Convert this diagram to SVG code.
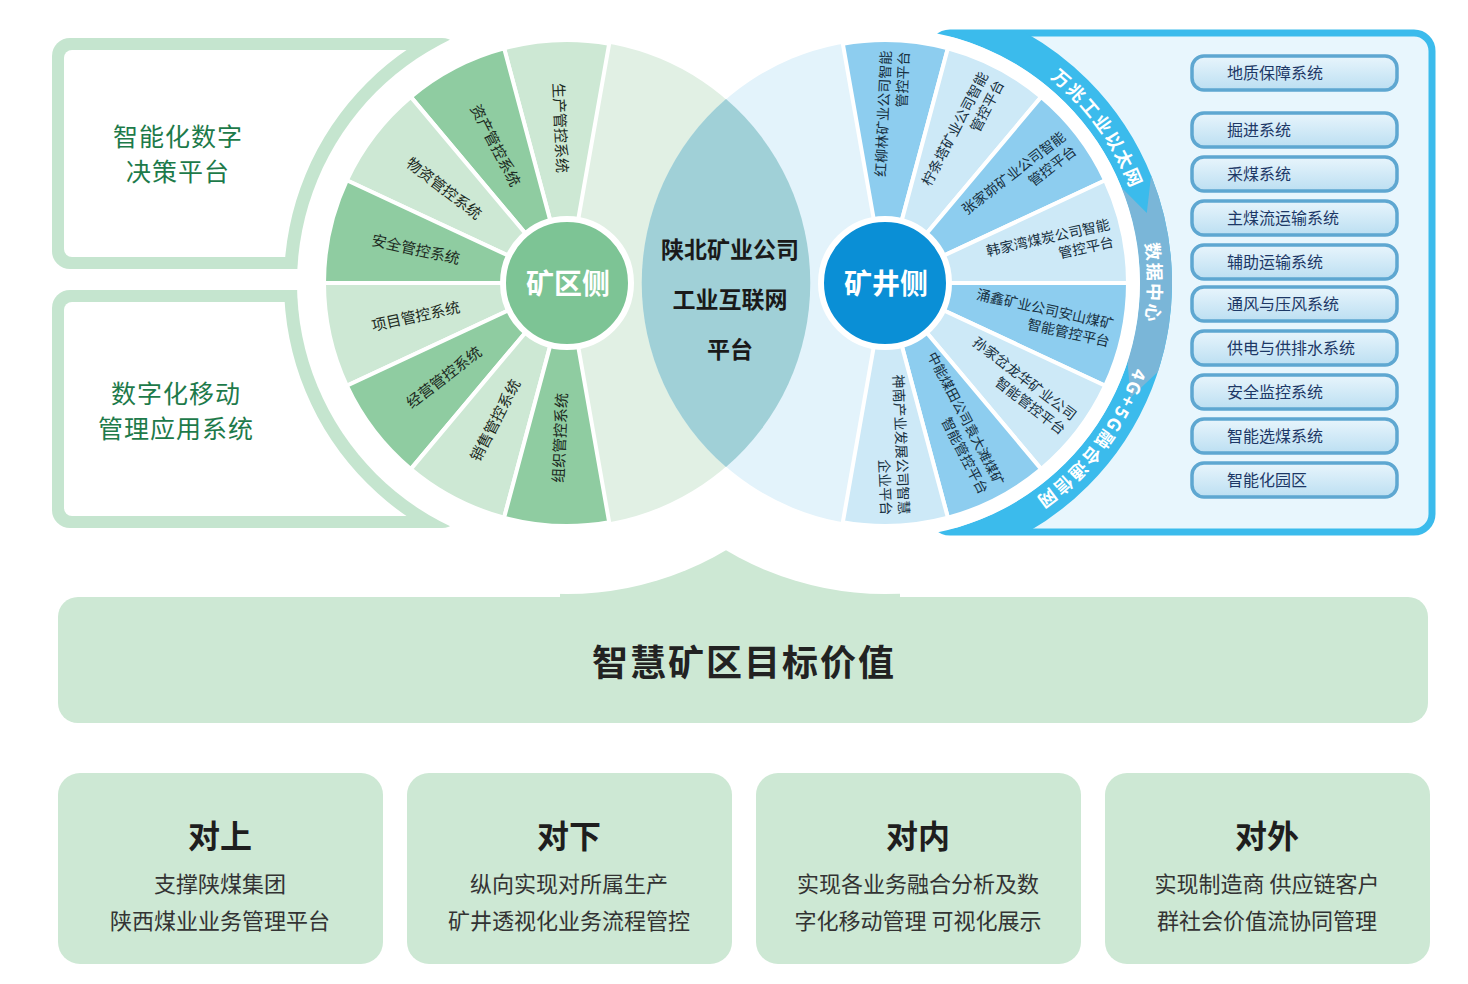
<svg xmlns="http://www.w3.org/2000/svg" width="1468" height="984" viewBox="0 0 1468 984">
<style>
text{font-family:"Noto Sans CJK SC","Noto Sans",sans-serif}
.lt{font-size:15px;fill:#1c2a22;text-anchor:middle}
.rt{font-size:14px;fill:#17303f;text-anchor:end}
.ring{font-size:18px;font-weight:bold;fill:#fff;letter-spacing:2px}
.sys{font-size:16px;fill:#1d3866}
.card{fill:#cde8d4}
.ct{font-size:32px;font-weight:bold;fill:#1e1e1e;text-anchor:middle}
.cl{font-size:22px;fill:#333;text-anchor:middle}
.pt{font-size:25px;fill:#1d7a4a;text-anchor:middle;letter-spacing:1px}
.gl{fill:#cde8d4}.gd{fill:#8fcca1}
.bl{fill:#cde9f7}.bd{fill:#8dcdef}
.sep{stroke:#fff;stroke-width:4}
.lb{fill:url(#bg);stroke:#5ea7d1;stroke-width:3.5}
</style>
<defs>
<linearGradient id="bg" x1="0" y1="0" x2="0" y2="1"><stop offset="0" stop-color="#e8f5fc"/><stop offset="1" stop-color="#bcdff2"/></linearGradient>
<clipPath id="pc"><rect x="932" y="33" width="500" height="499" rx="18"/></clipPath>
<clipPath id="outL" clip-rule="evenodd"><path clip-rule="evenodd" d="M0,0H700V600H0Z M850,283 A283,283 0 1 0 284,283 A283,283 0 1 0 850,283Z"/></clipPath>
<path id="tp" d="M885,20 A263,263 0 1 1 885,546 A263,263 0 1 1 885,20"/>
</defs>
<rect width="1468" height="984" fill="#fff"/>
<g id="backdrop">
<rect x="560" y="530" width="340" height="80" fill="#cde8d4"/>
<circle cx="567" cy="283" r="311" fill="#fff"/>
<circle cx="885" cy="283" r="311" fill="#fff"/>
</g>
<g id="left-panels">
<rect x="52" y="38" width="408" height="231" rx="18" fill="#c5e5cf"/>
<rect x="52" y="290" width="408" height="238" rx="18" fill="#c5e5cf"/>
<g clip-path="url(#outL)">
<rect x="64" y="50" width="400" height="207" rx="8" fill="#fff"/>
<rect x="64" y="302" width="400" height="214" rx="8" fill="#fff"/>
</g>
<circle cx="567" cy="283" r="270" fill="#fff"/>
<text class="pt" x="178" y="146">智能化数字</text>
<text class="pt" x="178" y="181">决策平台</text>
<text class="pt" x="176" y="403">数字化移动</text>
<text class="pt" x="176" y="438">管理应用系统</text>
</g>
<g id="right-panel">
<rect x="932" y="33" width="500" height="499" rx="18" fill="#e8f6fd" stroke="#3bbbec" stroke-width="7"/>
<circle cx="885" cy="283" r="271" fill="none" stroke="#3bbbec" stroke-width="32" clip-path="url(#pc)"/>
<path d="M1151.1,175.5 A287,287 0 0 1 1158,371.7 L1130.6,397.5 L1127.5,361.8 A255,255 0 0 0 1121.4,187.5 L1146.8,212.9 Z" fill="#7ab6d8"/>
<text class="ring"><textPath href="#tp" startOffset="248" text-anchor="middle">万兆工业以太网</textPath></text>
<text class="ring"><textPath href="#tp" startOffset="413" text-anchor="middle">数据中心</textPath></text>
<text class="ring"><textPath href="#tp" startOffset="583" text-anchor="middle">4G+5G融合通信网</textPath></text>
<circle cx="885" cy="283" r="255" fill="#fff"/>
</g>
<g id="systems">
<rect class="lb" x="1192" y="56" width="205" height="34" rx="12"/><text class="sys" x="1227" y="79">地质保障系统</text>
<rect class="lb" x="1192" y="113" width="205" height="34" rx="12"/><text class="sys" x="1227" y="136">掘进系统</text>
<rect class="lb" x="1192" y="157" width="205" height="34" rx="12"/><text class="sys" x="1227" y="180">采煤系统</text>
<rect class="lb" x="1192" y="201" width="205" height="34" rx="12"/><text class="sys" x="1227" y="224">主煤流运输系统</text>
<rect class="lb" x="1192" y="245" width="205" height="34" rx="12"/><text class="sys" x="1227" y="268">辅助运输系统</text>
<rect class="lb" x="1192" y="287" width="205" height="34" rx="12"/><text class="sys" x="1227" y="310">通风与压风系统</text>
<rect class="lb" x="1192" y="331" width="205" height="34" rx="12"/><text class="sys" x="1227" y="354">供电与供排水系统</text>
<rect class="lb" x="1192" y="375" width="205" height="34" rx="12"/><text class="sys" x="1227" y="398">安全监控系统</text>
<rect class="lb" x="1192" y="419" width="205" height="34" rx="12"/><text class="sys" x="1227" y="442">智能选煤系统</text>
<rect class="lb" x="1192" y="463" width="205" height="34" rx="12"/><text class="sys" x="1227" y="486">智能化园区</text>
</g>
<g id="wheel-bg">
<circle cx="567" cy="283" r="243" fill="#e1f0e4"/>
<circle cx="885" cy="283" r="243" fill="#e3f3fb"/>
</g>
<g id="left-wheel">
<g class="sep">
<path class="gl" d="M567,283 L609.2,43.7 A243,243 0 0 0 504.1,48.3Z"/>
<path class="gd" d="M567,283 L504.1,48.3 A243,243 0 0 0 410.8,96.9Z"/>
<path class="gl" d="M567,283 L410.8,96.9 A243,243 0 0 0 346.8,180.3Z"/>
<path class="gd" d="M567,283 L346.8,180.3 A243,243 0 0 0 324,283Z"/>
<path class="gl" d="M567,283 L324,283 A243,243 0 0 0 346.8,385.7Z"/>
<path class="gd" d="M567,283 L346.8,385.7 A243,243 0 0 0 410.8,469.1Z"/>
<path class="gl" d="M567,283 L410.8,469.1 A243,243 0 0 0 504.1,517.7Z"/>
<path class="gd" d="M567,283 L504.1,517.7 A243,243 0 0 0 609.2,522.3Z"/>
</g>
<text class="lt" dy=".35em" transform="translate(560.2,128.1) rotate(87.5)">生产管控系统</text>
<text class="lt" dy=".35em" transform="translate(495.4,145.5) rotate(62.5)">资产管控系统</text>
<text class="lt" dy=".35em" transform="translate(444,188.6) rotate(37.5)">物资管控系统</text>
<text class="lt" dy=".35em" transform="translate(415.7,249.5) rotate(12.5)">安全管控系统</text>
<text class="lt" dy=".35em" transform="translate(415.7,316.5) rotate(-12.5)">项目管控系统</text>
<text class="lt" dy=".35em" transform="translate(444,377.4) rotate(-37.5)">经营管控系统</text>
<text class="lt" dy=".35em" transform="translate(495.4,420.5) rotate(-62.5)">销售管控系统</text>
<text class="lt" dy=".35em" transform="translate(560.2,437.9) rotate(-87.5)">组织管控系统</text>
</g>
<g id="right-wheel">
<g class="sep">
<path class="bd" d="M885,283 L842.8,43.7 A243,243 0 0 1 947.9,48.3Z"/>
<path class="bl" d="M885,283 L947.9,48.3 A243,243 0 0 1 1041.2,96.9Z"/>
<path class="bd" d="M885,283 L1041.2,96.9 A243,243 0 0 1 1105.2,180.3Z"/>
<path class="bl" d="M885,283 L1105.2,180.3 A243,243 0 0 1 1128,283Z"/>
<path class="bd" d="M885,283 L1128,283 A243,243 0 0 1 1105.2,385.7Z"/>
<path class="bl" d="M885,283 L1105.2,385.7 A243,243 0 0 1 1041.2,469.1Z"/>
<path class="bd" d="M885,283 L1041.2,469.1 A243,243 0 0 1 947.9,517.7Z"/>
<path class="bl" d="M885,283 L947.9,517.7 A243,243 0 0 1 842.8,522.3Z"/>
</g>
<g transform="translate(895.1,51.2) rotate(-87.5)"><text class="rt" y="-4">红柳林矿业公司智能</text><text class="rt" y="14">管控平台</text></g>
<g transform="translate(992.1,77.2) rotate(-62.5)"><text class="rt" y="-4">柠条塔矿业公司智能</text><text class="rt" y="14">管控平台</text></g>
<g transform="translate(1069.1,141.8) rotate(-37.5)"><text class="rt" y="-4">张家峁矿业公司智能</text><text class="rt" y="14">管控平台</text></g>
<g transform="translate(1111.5,232.8) rotate(-12.5)"><text class="rt" y="-4">韩家湾煤炭公司智能</text><text class="rt" y="14">管控平台</text></g>
<g transform="translate(1111.5,333.2) rotate(12.5)"><text class="rt" y="-4">涌鑫矿业公司安山煤矿</text><text class="rt" y="14">智能管控平台</text></g>
<g transform="translate(1069.1,424.2) rotate(37.5)"><text class="rt" y="-4">孙家岔龙华矿业公司</text><text class="rt" y="14">智能管控平台</text></g>
<g transform="translate(992.1,488.8) rotate(62.5)"><text class="rt" y="-4" style="font-size:13.5px">中能煤田公司袁大滩煤矿</text><text class="rt" y="14">智能管控平台</text></g>
<g transform="translate(895.1,514.8) rotate(87.5)"><text class="rt" y="-4">神南产业发展公司智慧</text><text class="rt" y="14">企业平台</text></g>
</g>
<g id="lens">
<path d="M726,99 A243,243 0 0 0 726,467 A243,243 0 0 0 726,99Z" fill="#a0d0d7"/>
<text x="730" y="258" font-size="23" font-weight="bold" fill="#1a1a1a" text-anchor="middle">陕北矿业公司</text>
<text x="730" y="308" font-size="23" font-weight="bold" fill="#1a1a1a" text-anchor="middle">工业互联网</text>
<text x="730" y="358" font-size="23" font-weight="bold" fill="#1a1a1a" text-anchor="middle">平台</text>
</g>
<g id="hub-left">
<circle cx="567" cy="283" r="64" fill="#7dc495" stroke="#fff" stroke-width="6"/>
<text x="568" y="294" font-size="28" font-weight="bold" fill="#fff" text-anchor="middle">矿区侧</text>
</g>
<g id="hub-right">
<circle cx="885" cy="283" r="64" fill="#0a8fd6" stroke="#fff" stroke-width="6"/>
<text x="886" y="294" font-size="28" font-weight="bold" fill="#fff" text-anchor="middle">矿井侧</text>
</g>
<g id="target">
<rect x="58" y="597" width="1370" height="126" rx="20" fill="#cde8d4"/>
<text x="744" y="676" font-size="36" font-weight="bold" fill="#222" text-anchor="middle" letter-spacing="2">智慧矿区目标价值</text>
</g>
<g id="card1"><rect class="card" x="58" y="773" width="325" height="191" rx="22"/><text class="ct" x="220" y="848">对上</text><text class="cl" x="220" y="892">支撑陕煤集团</text><text class="cl" x="220" y="929">陕西煤业业务管理平台</text></g>
<g id="card2"><rect class="card" x="407" y="773" width="325" height="191" rx="22"/><text class="ct" x="569" y="848">对下</text><text class="cl" x="569" y="892">纵向实现对所属生产</text><text class="cl" x="569" y="929">矿井透视化业务流程管控</text></g>
<g id="card3"><rect class="card" x="756" y="773" width="325" height="191" rx="22"/><text class="ct" x="918" y="848">对内</text><text class="cl" x="918" y="892">实现各业务融合分析及数</text><text class="cl" x="918" y="929">字化移动管理 可视化展示</text></g>
<g id="card4"><rect class="card" x="1105" y="773" width="325" height="191" rx="22"/><text class="ct" x="1267" y="848">对外</text><text class="cl" x="1267" y="892">实现制造商 供应链客户</text><text class="cl" x="1267" y="929">群社会价值流协同管理</text></g>
<g id="connectors"/>
</svg>
